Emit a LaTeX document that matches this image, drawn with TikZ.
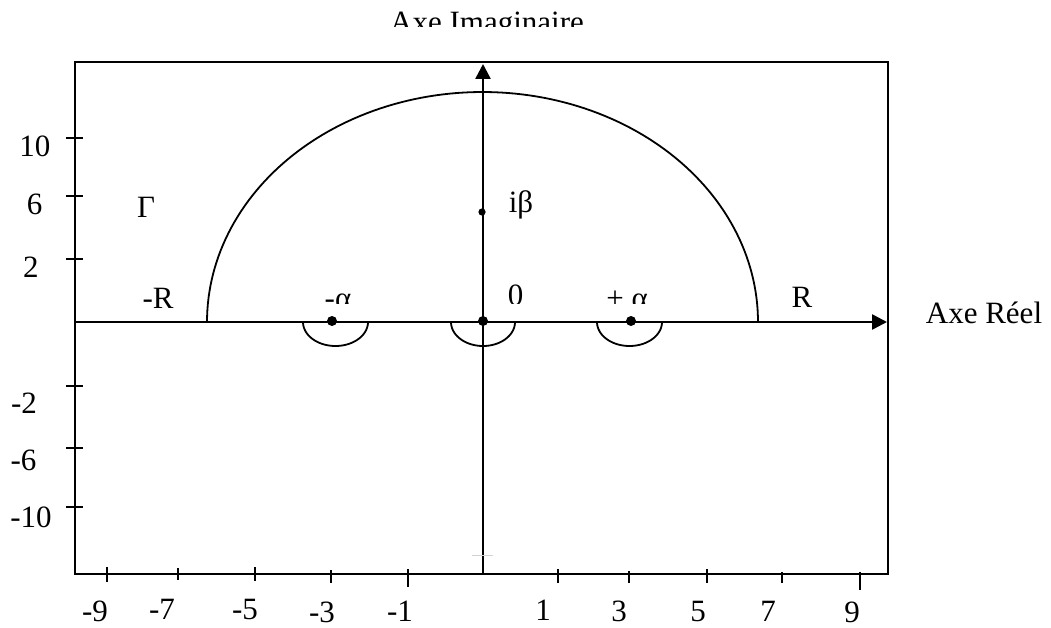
\documentclass[tikz,border=0pt]{standalone}
\usepackage{fontspec}
\setmainfont{Liberation Serif}
\usetikzlibrary{arrows.meta}
\begin{document}
\begin{tikzpicture}[x=1pt,y=-1pt,
  lbl/.style={font=\fontsize{31}{36}\selectfont, inner sep=0pt},
  axisline/.style={line width=2.6pt},
  tickline/.style={line width=2.2pt},
  curve/.style={line width=1.8pt},
  tip/.style={-{Triangle[length=15pt,width=15pt]}}]
\useasboundingbox (0,0) rectangle (1051,628);
% frame
\draw[line width=2.3pt] (75,62) rectangle (888,574);
% named points
\coordinate (xstart) at (75,322);
\coordinate (xend) at (887,322);
\coordinate (ystart) at (483,574);
\coordinate (yend) at (483,64);
% axes
\draw[axisline,tip] (xstart) -- (xend);
\draw[axisline,tip] (ystart) -- (yend);
% faint mark
\draw[gray!35,line width=1pt] (472,555) -- (493,555);
% big contour
\draw[curve] plot[domain=180:360,samples=120] ({482.5+275.5*cos(\x)},{322+230*sin(\x)});
% small indentations
\draw[curve] plot[domain=0:180,samples=60] ({335.5+32.5*cos(\x)},{322+24*sin(\x)});
\draw[curve] plot[domain=0:180,samples=60] ({483+32*cos(\x)},{322+24*sin(\x)});
\draw[curve] plot[domain=0:180,samples=60] ({629.5+32.5*cos(\x)},{322+24*sin(\x)});
% dots
\fill (332,321) circle[radius=5pt];
\fill (483,321) circle[radius=5pt];
\fill (631,321) circle[radius=5pt];
\fill (482,212) circle[radius=3.6pt];
% left ticks
\foreach \yy in {138,196,259,386,448,507} \draw[tickline] (66,\yy) -- (83,\yy);
% bottom ticks
\draw[tickline] (107,567) -- (107,582);
\draw[tickline] (178,568) -- (178,580);
\draw[tickline] (255,567) -- (255,581);
\draw[tickline] (331,570) -- (331,583);
\draw[tickline] (408,569) -- (408,587);
\draw[tickline] (558,569) -- (558,583);
\draw[tickline] (629,571) -- (629,583);
\draw[tickline] (707,569) -- (707,583);
\draw[tickline] (782,572) -- (782,583);
\draw[tickline] (860,572) -- (860,590);
% left labels
\node[lbl,anchor=base] (l10) at (35,157) {10};
\node[lbl,anchor=base] (l6) at (34.5,215) {6};
\node[lbl,anchor=base] (l2) at (31,277) {2};
\node[lbl,anchor=base] (lm2) at (24,413) {-2};
\node[lbl,anchor=base] (lm6) at (23.5,470) {-6};
\node[lbl,anchor=base] (lm10) at (31,527) {-10};
% bottom labels
\node[lbl,anchor=base] (bm9) at (95,621) {-9};
\node[lbl,anchor=base] (bm7) at (162,619) {-7};
\node[lbl,anchor=base] (bm5) at (245,619) {-5};
\node[lbl,anchor=base] (bm3) at (322,622) {-3};
\node[lbl,anchor=base] (bm1) at (400,621) {-1};
\node[lbl,anchor=base] (b1) at (543,620) {1};
\node[lbl,anchor=base] (b3) at (619,621) {3};
\node[lbl,anchor=base] (b5) at (698,621) {5};
\node[lbl,anchor=base] (b7) at (768,621) {7};
\node[lbl,anchor=base] (b9) at (852,622) {9};
% other labels
\node[lbl,anchor=base] (gam) at (146,218) {Γ};
\node[lbl,anchor=base] (mR) at (158,308) {-R};
\node[lbl,anchor=base] (pR) at (802,307) {R};
\node[lbl,anchor=base] (ib) at (521,213) {iβ};
\node[lbl,anchor=base] (reel) at (984,323) {Axe Réel};
\begin{scope}
\clip (0,0) rectangle (1051,303);
\node[lbl,anchor=base] (ma) at (338,308) {-α};
\node[lbl,anchor=base] (zero) at (515.5,305.5) {0};
\node[lbl,anchor=base] (pa) at (627,308) {+ α};
\end{scope}
\begin{scope}
\clip (0,0) rectangle (1051,27);
\node[lbl,anchor=base] (imag) at (487,32.5) {Axe Imaginaire};
\end{scope}
\end{tikzpicture}
\end{document}
